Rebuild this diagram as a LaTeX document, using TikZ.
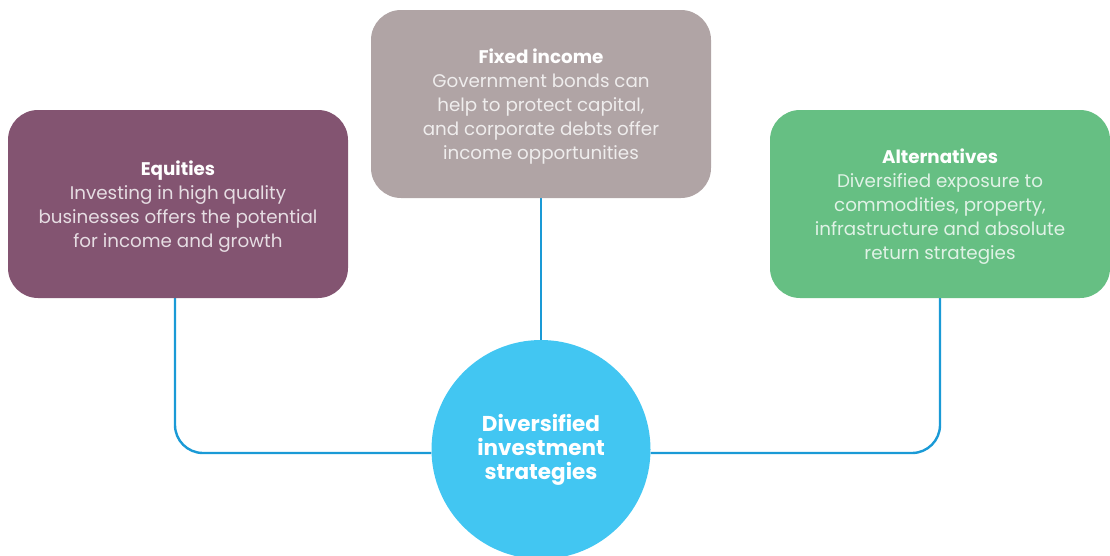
\documentclass[tikz,border=0pt]{standalone}
\usepackage{fontspec}
\setmainfont{Poppins}
\usetikzlibrary{backgrounds}
\definecolor{eqcol}{HTML}{835471}
\definecolor{ficol}{HTML}{B0A4A5}
\definecolor{altcol}{HTML}{66BF83}
\definecolor{hubcol}{HTML}{42C6F2}
\definecolor{linecol}{HTML}{1A9AD6}
\tikzset{
  box/.style={rounded corners=30pt, minimum width=340pt, minimum height=188pt, inner sep=0pt},
  boxtext/.style={inner sep=0pt, align=center, font=\fontsize{18.3}{24}\selectfont},
  conn/.style={draw=linecol, line width=2.4pt, rounded corners=28pt},
  hubnode/.style={circle, fill=hubcol, minimum size=219pt, inner sep=0pt, align=center, text=white, font=\bfseries\fontsize{21.5}{24}\selectfont}
}
\begin{document}
\begin{tikzpicture}[x=1pt,y=-1pt]
\useasboundingbox (0,0) rectangle (1110,555);
\node[box, fill=eqcol] (eq) at (178,204) {};
\node[boxtext, text=white!80!eqcol] (eqt) at ([yshift=-3pt]eq.center) {{\bfseries\color{white}Equities}\\Investing in high quality\\businesses offers the potential\\for income and growth};
\node[box, fill=ficol] (fi) at (541,104) {};
\node[boxtext, text=white!80!ficol] (fit) at ([yshift=-3pt]fi.center) {{\bfseries\color{white}Fixed income}\\Government bonds can\\help to protect capital,\\and corporate debts offer\\income opportunities};
\node[box, fill=altcol] (alt) at (940,204) {};
\node[boxtext, text=white!80!altcol] (altt) at ([yshift=-3pt]alt.center) {{\bfseries\color{white}Alternatives}\\Diversified exposure to\\commodities, property,\\infrastructure and absolute\\return strategies};
\node[hubnode] (hub) at (541,449.5) {Diversified\\investment\\strategies};
\begin{scope}[on background layer]
\coordinate (jl) at ([yshift=-3.5pt]hub.west);
\coordinate (jr) at ([yshift=-3.5pt]hub.east);
\draw[conn] ([xshift=-3pt]eq.south) |- (jl);
\draw[conn] (alt.south) |- (jr);
\draw[conn] (fi.south) -- (hub.north);
\end{scope}
\end{tikzpicture}
\end{document}
